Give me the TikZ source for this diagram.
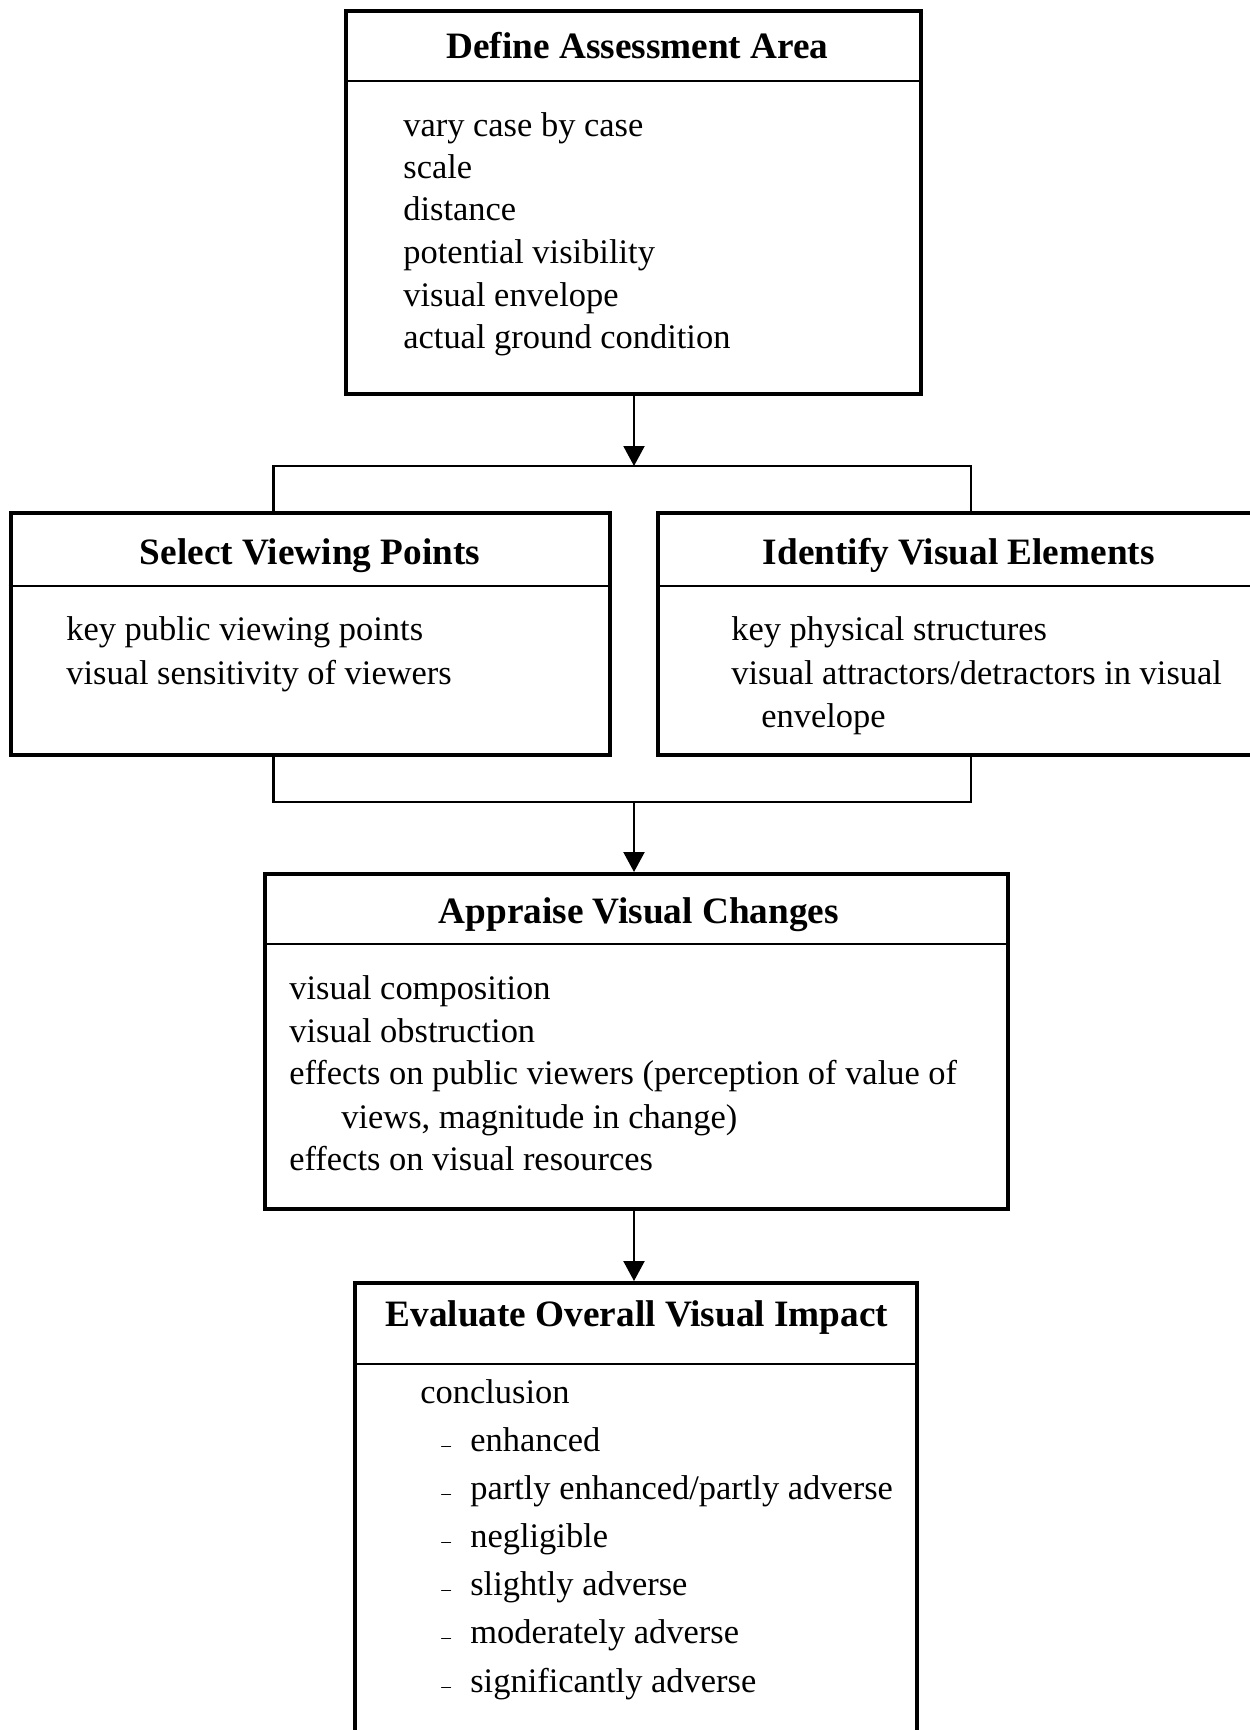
\documentclass[tikz,border=0pt]{standalone}
\usepackage{fontspec}
\setmainfont{Liberation Serif}
\usetikzlibrary{arrows.meta}

\begin{document}
\begin{tikzpicture}[x=0.02cm,y=-0.02cm,
                    box/.style={draw,line width=2.3pt,inner sep=0pt},
                    divider/.style={line width=1.1pt},
                    conn/.style={line width=1.2pt},
                    conarrow/.style={conn,-{Triangle[length=0.4cm,width=0.42cm]}},
                    boxtitle/.style={font=\fontsize{21.2pt}{25pt}\selectfont\bfseries,inner sep=0pt,text height=0.7em,text depth=0.22em},
                    boxitem/.style={font=\fontsize{19.6pt}{23.5pt}\selectfont,anchor=west,inner sep=0pt,text height=0.7em,text depth=0.22em}]
                    \useasboundingbox (0,0) rectangle (1250,1730);
                    \clip (0,0) rectangle (1250,1730);
                    \node [box,minimum width=11.5cm,minimum height=7.66cm] (define) at (633.5,202.5) {};
                    \draw [divider] (define.west |- 0,81) -- (define.east |- 0,81);
                    \node [boxtitle] (definetitle) at (637.5,54) {Define Assessment Area};
                    \node [boxitem] (define1) at (403,132.7) {vary case by case};
                    \node [boxitem] (define2) at (403,174.6) {scale};
                    \node [boxitem] (define3) at (403,216.5) {distance};
                    \node [boxitem] (define4) at (403,259.6) {potential visibility};
                    \node [boxitem] (define5) at (403,302.6) {visual envelope};
                    \node [boxitem] (define6) at (403,344.5) {actual ground condition};
                    \node [box,minimum width=12cm,minimum height=4.84cm] (select) at (310.5,634) {};
                    \draw [divider] (select.west |- 0,586) -- (select.east |- 0,586);
                    \node [boxtitle] (selecttitle) at (310,560.5) {Select Viewing Points};
                    \node [boxitem] (select1) at (66,635.8) {key public viewing points};
                    \node [boxitem] (select2) at (66,679.9) {visual sensitivity of viewers};
                    \node [box,minimum width=12.02cm,minimum height=4.84cm] (identify) at (958.5,634) {};
                    \draw [divider] (identify.west |- 0,586) -- (identify.east |- 0,586);
                    \node [boxtitle] (identifytitle) at (958.8,560.5) {Identify Visual Elements};
                    \node [boxitem] (identify1) at (731,635.8) {key physical structures};
                    \node [boxitem] (identify2) at (731,679.9) {visual attractors/detractors in visual};
                    \node [boxitem] (identify3) at (761,723) {envelope};
                    \node [box,minimum width=14.86cm,minimum height=6.7cm] (appraise) at (636.5,1041.5) {};
                    \draw [divider] (appraise.west |- 0,944) -- (appraise.east |- 0,944);
                    \node [boxtitle] (appraisetitle) at (638.8,919) {Appraise Visual Changes};
                    \node [boxitem] (appraise1) at (289,995.5) {visual composition};
                    \node [boxitem] (appraise2) at (289,1038.5) {visual obstruction};
                    \node [boxitem] (appraise3) at (289,1080.4) {effects on public viewers (perception of value of};
                    \node [boxitem] (appraise4) at (341,1124.6) {views, magnitude in change)};
                    \node [boxitem] (appraise5) at (289,1166.5) {effects on visual resources};
                    \node [box,minimum width=11.24cm,minimum height=10.14cm] (evaluate) at (636,1536.5) {};
                    \draw [divider] (evaluate.west |- 0,1364) -- (evaluate.east |- 0,1364);
                    \node [boxtitle] (evaluatetitle) at (637,1322) {Evaluate Overall Visual Impact};
                    \node [boxitem] (evaluate0) at (420,1399) {conclusion};
                    \node [boxitem] (evaluate1) at (441,1447) {\makebox[0.58cm][l]{\fontsize{11pt}{12pt}\selectfont –}enhanced};
                    \node [boxitem] (evaluate2) at (441,1495) {\makebox[0.58cm][l]{\fontsize{11pt}{12pt}\selectfont –}partly enhanced/partly adverse};
                    \node [boxitem] (evaluate3) at (441,1543) {\makebox[0.58cm][l]{\fontsize{11pt}{12pt}\selectfont –}negligible};
                    \node [boxitem] (evaluate4) at (441,1591) {\makebox[0.58cm][l]{\fontsize{11pt}{12pt}\selectfont –}slightly adverse};
                    \node [boxitem] (evaluate5) at (441,1639) {\makebox[0.58cm][l]{\fontsize{11pt}{12pt}\selectfont –}moderately adverse};
                    \node [boxitem] (evaluate6) at (441,1688) {\makebox[0.58cm][l]{\fontsize{11pt}{12pt}\selectfont –}significantly adverse};
                    \coordinate (split) at (634,466);
                    \coordinate (splitleft) at (273.5,466);
                    \coordinate (splitright) at (971,466);
                    \coordinate (join) at (634,802);
                    \coordinate (joinleft) at (273.5,802);
                    \coordinate (joinright) at (971,802);
                    \draw [conarrow] (define.south -| split) -- (split);
                    \draw [conn] (select.north -| splitleft) -- (splitleft) -- (splitright) -- (identify.north -| splitright);
                    \draw [conn] (select.south -| joinleft) -- (joinleft) -- (joinright) -- (identify.south -| joinright);
                    \draw [conarrow] (join) -- (appraise.north -| join);
                    \draw [conarrow] (appraise.south -| join) -- (evaluate.north -| join);
                \end{tikzpicture}
\end{document}
